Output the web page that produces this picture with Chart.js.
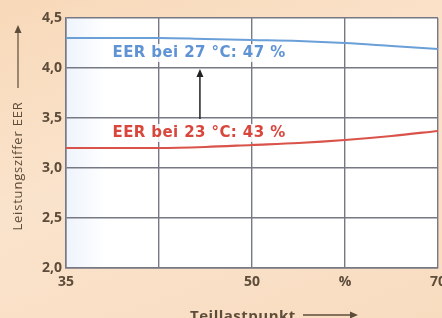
<!DOCTYPE html>
<html>
<head>
<meta charset="utf-8">
<script src="https://cdn.jsdelivr.net/npm/chart.js@4"></script>
<style>
  html, body { margin: 0; padding: 0; }
  body { width: 442px; height: 318px; overflow: hidden;
         background: linear-gradient(160deg, #f8d9b9 0%, #fae3cc 45%, #f8dcc0 100%); }
  #wrap { position: relative; width: 442px; height: 318px; }
</style>
</head>
<body>
<div id="wrap"><canvas id="chart" width="442" height="318"></canvas></div>
<script>
// Positionen auf der x-Achse (0..4) und Beschriftungen
const xPos = [0, 0.5, 1, 1.5, 2, 2.5, 3, 3.5, 4];
const xTickLabels = ["35", "", "50", "%", "70"];
const yTicks = [2.0, 2.5, 3.0, 3.5, 4.0, 4.5];

// EER-Werte
const eer27 = [4.30, 4.30, 4.30, 4.29, 4.28, 4.27, 4.25, 4.22, 4.19];
const eer23 = [3.20, 3.20, 3.20, 3.21, 3.23, 3.25, 3.28, 3.32, 3.37];

const label27 = "EER bei 27 °C: 47 %";
const label23 = "EER bei 23 °C: 43 %";
const yTitle = "Leistungsziffer EER";
const xTitle = "Teillastpunkt";

const textColor = "#5e4c3a";
const gridColor = "#767884";

function toPoints(vals) {
    return vals.map((v, i) => ({ x: xPos[i], y: v }));
}

function arrowHead(ctx, x, y, dir) {
    // dir: 'up' oder 'right'
    ctx.beginPath();
    if (dir === "up") {
        ctx.moveTo(x, y);
        ctx.lineTo(x - 3.5, y + 8);
        ctx.lineTo(x + 3.5, y + 8);
    } else {
        ctx.moveTo(x, y);
        ctx.lineTo(x - 8, y - 3.5);
        ctx.lineTo(x - 8, y + 3.5);
    }
    ctx.closePath();
    ctx.fill();
}

// Weißer Plotbereich
const plotBg = {
    id: "plotBg",
    beforeDraw(chart) {
        const { ctx, chartArea: a } = chart;
        ctx.save();
        const g = ctx.createLinearGradient(a.left, 0, a.left + 40, 0);
        g.addColorStop(0, "#eef4fc");
        g.addColorStop(1, "#ffffff");
        ctx.fillStyle = g;
        ctx.fillRect(a.left, a.top, a.right - a.left, a.bottom - a.top);
        ctx.restore();
    }
};

// Beschriftungen, Pfeil und Achsentitel
const extras = {
    id: "extras",
    afterDatasetsDraw(chart) {
        const { ctx, scales: { x, y } } = chart;
        ctx.save();

        // Pfeil zwischen den Kurven
        const ax = x.getPixelForValue(1.44);
        const y0 = y.getPixelForValue(3.49);
        const y1 = y.getPixelForValue(3.99);
        ctx.strokeStyle = "#222";
        ctx.fillStyle = "#222";
        ctx.lineWidth = 1.5;
        ctx.beginPath();
        ctx.moveTo(ax, y0);
        ctx.lineTo(ax, y1 + 6);
        ctx.stroke();
        arrowHead(ctx, ax, y1, "up");

        // Kurvenbeschriftungen
        ctx.font = "bold 15px 'DejaVu Sans'";
        ctx.letterSpacing = "0.4px";
        ctx.textAlign = "left";
        ctx.textBaseline = "middle";
        const tx = x.getPixelForValue(0.5);
        const pairs = [[label27, 4.15, "#5f93d3"], [label23, 3.35, "#d8463c"]];
        pairs.forEach(([t, v, c]) => {
            const py = y.getPixelForValue(v);
            const w = ctx.measureText(t).width;
            ctx.fillStyle = "rgba(255,255,255,0.85)";
            ctx.fillRect(tx - 3, py - 9, w + 6, 18);
            ctx.fillStyle = c;
            ctx.fillText(t, tx, py);
        });
        ctx.letterSpacing = "0px";

        // y-Achsentitel mit Pfeil
        ctx.fillStyle = textColor;
        ctx.strokeStyle = textColor;
        ctx.font = "13px 'Open Sans'";
        ctx.letterSpacing = "0.8px";
        ctx.save();
        ctx.translate(18, 166);
        ctx.rotate(-Math.PI / 2);
        ctx.textAlign = "center";
        ctx.fillText(yTitle, 0, 0);
        ctx.restore();
        ctx.lineWidth = 1.2;
        ctx.beginPath();
        ctx.moveTo(18, 88);
        ctx.lineTo(18, 32);
        ctx.stroke();
        arrowHead(ctx, 18, 25, "up");

        // x-Achsentitel mit Pfeil
        ctx.font = "bold 15px 'Open Sans'";
        ctx.letterSpacing = "0.5px";
        ctx.textAlign = "left";
        ctx.textBaseline = "alphabetic";
        ctx.fillText(xTitle, 190, 321);
        ctx.lineWidth = 1.5;
        ctx.beginPath();
        ctx.moveTo(303, 315);
        ctx.lineTo(350, 315);
        ctx.stroke();
        arrowHead(ctx, 358, 315, "right");

        ctx.restore();
    }
};

new Chart(document.getElementById("chart"), {
    type: "line",
    data: {
        datasets: [
            {
                label: label27,
                data: toPoints(eer27),
                borderColor: "#6a9fd8",
                borderWidth: 2,
                pointRadius: 0,
                cubicInterpolationMode: "monotone"
            },
            {
                label: label23,
                data: toPoints(eer23),
                borderColor: "#d9534a",
                borderWidth: 2.2,
                pointRadius: 0,
                cubicInterpolationMode: "monotone"
            }
        ]
    },
    options: {
        responsive: false,
        animation: false,
        layout: { padding: { top: 18, right: 4, left: 0, bottom: 0 } },
        plugins: { legend: { display: false }, tooltip: { enabled: false } },
        scales: {
            x: {
                type: "linear",
                min: 0,
                max: 4,
                afterBuildTicks: s => { s.ticks = [0, 1, 2, 3, 4].map(v => ({ value: v })); },
                afterFit: s => { s.height = 50; s.paddingLeft = 0; s.paddingRight = 0; },
                grid: { color: gridColor, lineWidth: 1.4, drawTicks: false },
                border: { color: gridColor, width: 1.5 },
                ticks: {
                    padding: 6,
                    color: textColor,
                    font: { family: "'Open Sans'", size: 14, weight: "bold" },
                    callback: v => xTickLabels[v]
                }
            },
            y: {
                min: 2.0,
                max: 4.5,
                afterBuildTicks: s => { s.ticks = yTicks.map(v => ({ value: v })); },
                afterFit: s => { s.width = 66; s.paddingTop = 0; s.paddingBottom = 0; },
                grid: { color: gridColor, lineWidth: 1.4, drawTicks: false },
                border: { color: gridColor, width: 1.5 },
                ticks: {
                    padding: 4,
                    color: textColor,
                    font: { family: "'Open Sans'", size: 14, weight: "bold" },
                    callback: v => v.toFixed(1).replace(".", ",")
                }
            }
        }
    },
    plugins: [plotBg, extras]
});
</script>
</body>
</html>
